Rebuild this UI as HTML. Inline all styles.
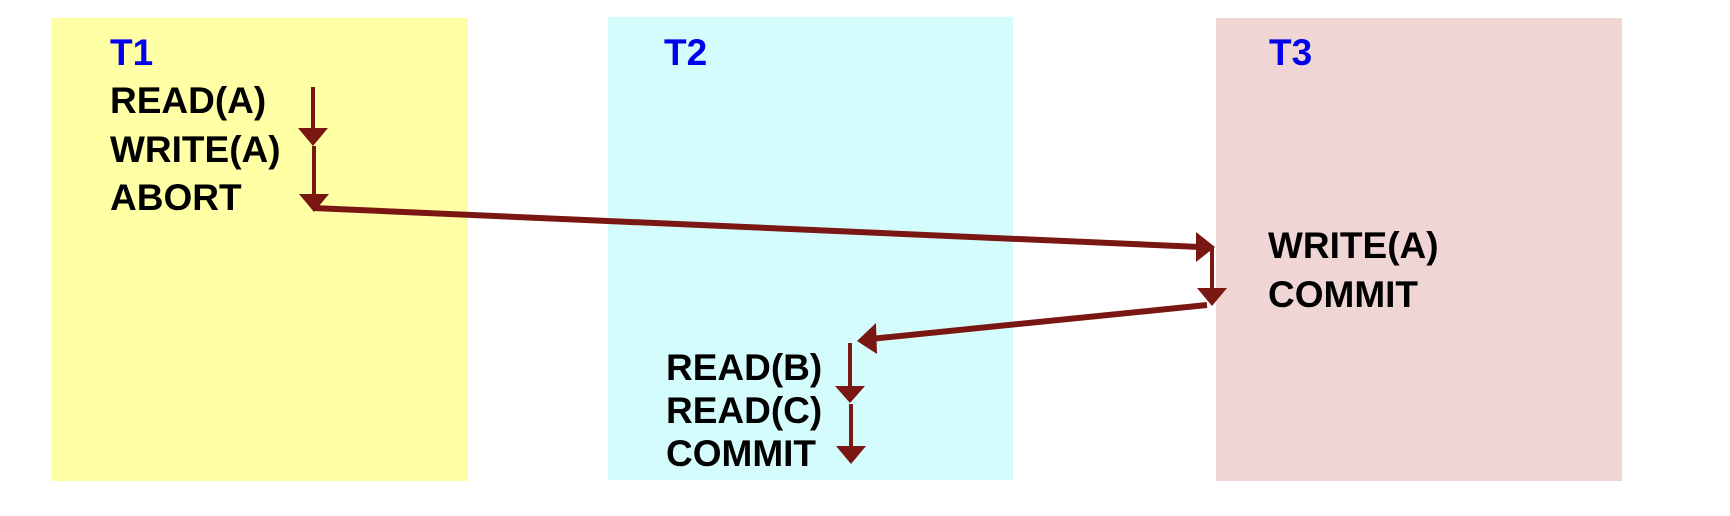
<!DOCTYPE html>
<html><head><meta charset="utf-8"><style>
html,body{margin:0;padding:0;background:#fff;}
svg{display:block;}
text{font-family:"Liberation Sans",sans-serif;font-weight:bold;font-size:37px;}
</style></head><body>
<svg width="1730" height="516" viewBox="0 0 1730 516" xmlns="http://www.w3.org/2000/svg">
<rect x="51" y="18" width="417" height="463" fill="#ffffa5"/>
<rect x="608" y="17" width="405" height="463" fill="#d5fcfc"/>
<rect x="1216" y="18" width="406" height="463" fill="#f0d5d5"/>
<g fill="#0000ee">
<text x="110" y="65">T1</text>
<text x="664" y="65">T2</text>
<text x="1269" y="65">T3</text>
</g>
<g fill="#000">
<text x="110" y="113">READ(A)</text>
<text x="110" y="162">WRITE(A)</text>
<text x="110" y="210">ABORT</text>
<text x="1268" y="258">WRITE(A)</text>
<text x="1268" y="307">COMMIT</text>
<text x="666" y="380">READ(B)</text>
<text x="666" y="423">READ(C)</text>
<text x="666" y="466">COMMIT</text>
</g>
<g stroke="#7a1712" fill="none" stroke-width="4">
<line x1="313" y1="87" x2="313" y2="132"/>
<line x1="314" y1="146" x2="314" y2="198"/>
<line x1="1212" y1="247" x2="1212" y2="290"/>
<line x1="850" y1="343" x2="850" y2="390"/>
<line x1="851" y1="404" x2="851" y2="450"/>
</g>
<g stroke="#7a1712" fill="none" stroke-width="6">
<line x1="313" y1="208" x2="1200" y2="247"/>
<line x1="1207" y1="305" x2="870" y2="339"/>
</g>
<g fill="#7a1712">
<polygon points="298,128 328,128 313,146"/>
<polygon points="299,194 329,194 314,212"/>
<polygon points="1196,232 1215,247 1196,262"/>
<polygon points="1197,288 1227,288 1212,306"/>
<polygon points="876,323 857,341 877,354"/>
<polygon points="835,386 865,386 850,403"/>
<polygon points="836,446 866,446 851,464"/>
</g>
</svg>
</body></html>
